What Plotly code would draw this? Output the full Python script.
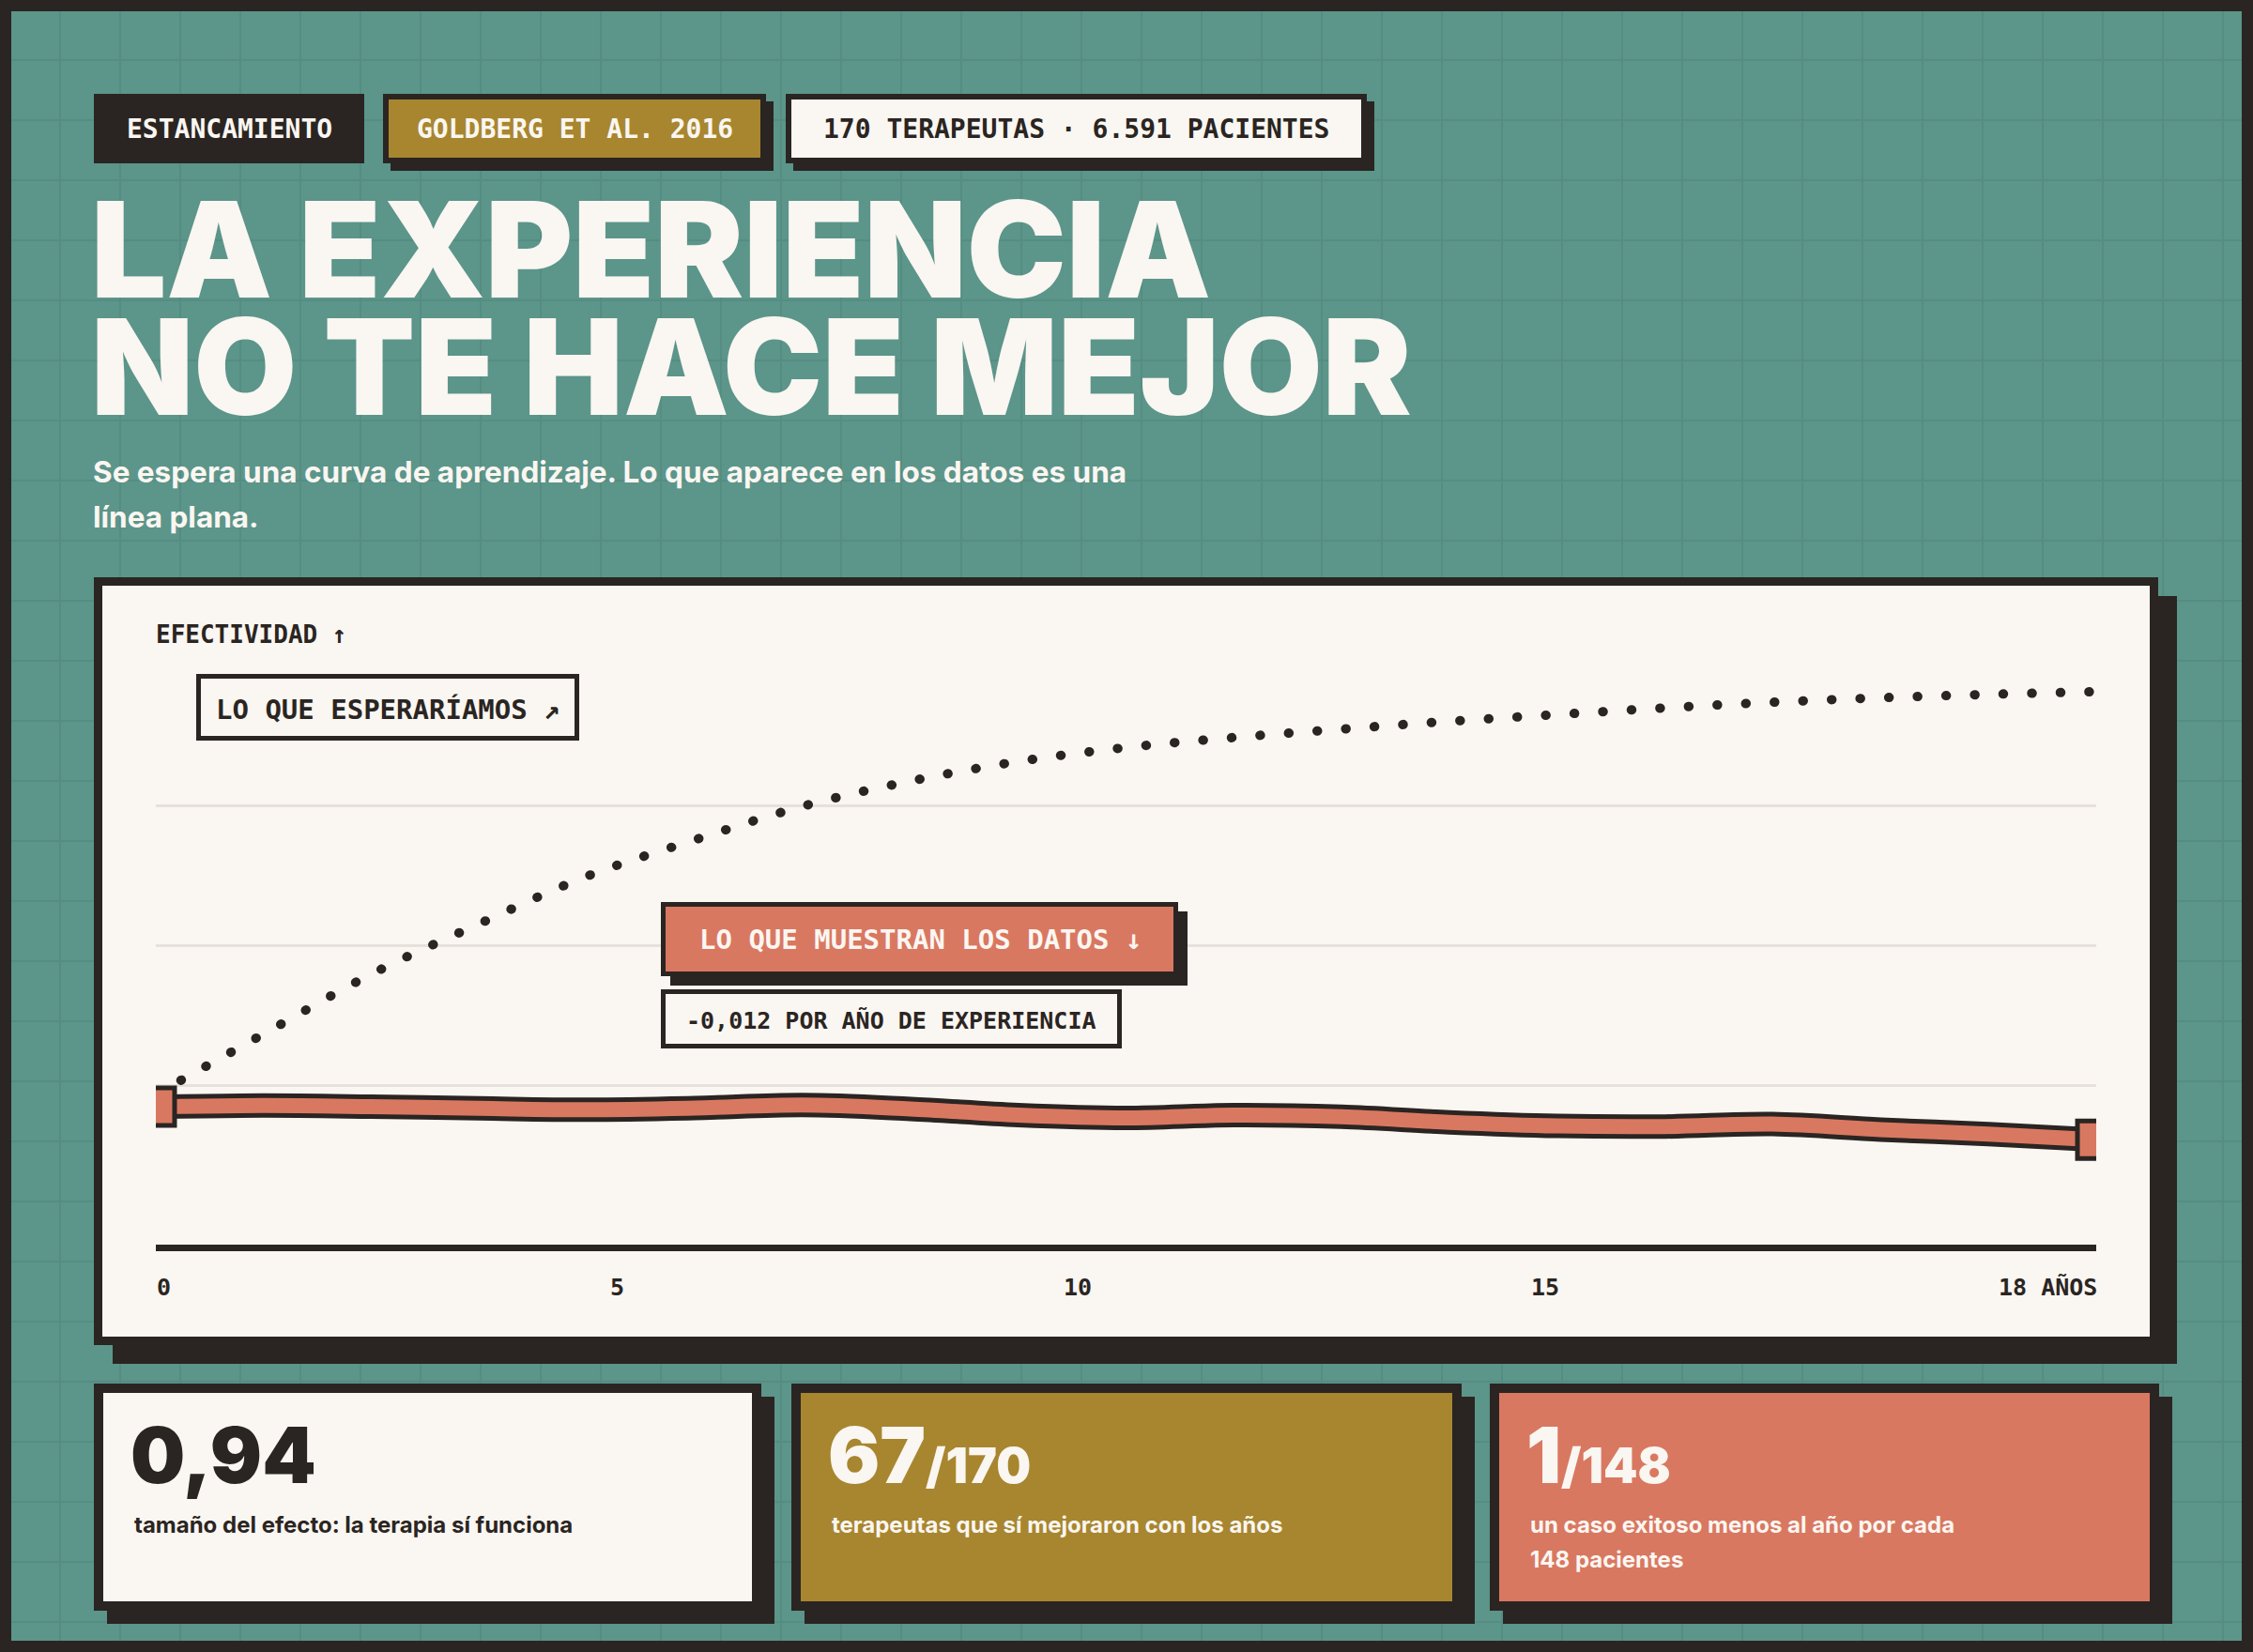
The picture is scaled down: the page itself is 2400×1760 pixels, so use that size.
import plotly.graph_objects as go

# page size in px, everything below is laid out in page pixels
W, H = 2400, 1760

TEAL = "#5c958a"
TEAL_LINE = "#558d82"
DARK = "#2a2522"
CREAM = "#faf6f1"
GOLD = "#a8862f"
CORAL = "#d97861"
GRID = "#e6e1db"

MONO = "DejaVu Sans Mono"
SANS = "Inter"

# --- data ---
years = list(range(19))
expected = [23.5, 34.3, 45.0, 54.0, 62.5, 69.0, 75.0, 79.5, 83.0, 85.5,
            87.3, 88.8, 90.2, 91.4, 92.6, 93.6, 94.4, 95.0, 95.5]
observed = [21.3, 21.5, 21.3, 21.0, 20.75, 21.05, 21.6, 20.9, 19.8, 19.3,
            19.8, 19.5, 18.5, 17.85, 17.75, 18.2, 17.2, 16.4, 15.4]
grid_levels = [25, 50, 75]
x_tick_labels = ["0", "5", "10", "15", "18 AÑOS"]

tag_labels = ["ESTANCAMIENTO", "GOLDBERG ET AL. 2016", "170 TERAPEUTAS · 6.591 PACIENTES"]
title_lines = ["LA EXPERIENCIA", "NO TE HACE MEJOR"]
subtitle_lines = ["Se espera una curva de aprendizaje. Lo que aparece en los datos es una",
                  "línea plana."]
y_label = "EFECTIVIDAD ↑"
expected_label = "LO QUE ESPERARÍAMOS ↗"
observed_label = "LO QUE MUESTRAN LOS DATOS ↓"
slope_label = "-0,012 POR AÑO DE EXPERIENCIA"

stat_values = ["0,94", "67", "1"]
stat_denoms = ["", "/170", "/148"]
stat_texts = [["tamaño del efecto: la terapia sí funciona"],
              ["terapeutas que sí mejoraron con los años"],
              ["un caso exitoso menos al año por cada", "148 pacientes"]]


def fx(px):
    return px / W


def fy(py):
    return 1 - py / H


def rect(x0, y0, x1, y1, color, layer="below"):
    return dict(type="rect", xref="paper", yref="paper",
                x0=fx(x0), x1=fx(x1), y0=fy(y1), y1=fy(y0),
                fillcolor=color, line_width=0, layer=layer)


def box(x0, y0, x1, y1, fill, border=0, shadow=0, layer="below"):
    out = []
    if shadow:
        out.append(rect(x0 + shadow, y0 + shadow, x1 + shadow, y1 + shadow, DARK, layer))
    if border:
        out.append(rect(x0, y0, x1, y1, DARK, layer))
        out.append(rect(x0 + border, y0 + border, x1 - border, y1 - border, fill, layer))
    else:
        out.append(rect(x0, y0, x1, y1, fill, layer))
    return out


def text(t, x, y, size, color, family=MONO, weight=700, anchor="left"):
    return dict(text=t, x=fx(x), y=fy(y), xref="paper", yref="paper",
                xanchor=anchor, yanchor="middle", showarrow=False, borderpad=0,
                font=dict(family=family, size=size, color=color, weight=weight))


shapes = []
annotations = []

# background grid
for gx in range(64, W, 64):
    shapes.append(dict(type="line", xref="paper", yref="paper", x0=fx(gx), x1=fx(gx),
                       y0=0, y1=1, line=dict(color=TEAL_LINE, width=2), layer="below"))
for gy in range(64, H, 64):
    shapes.append(dict(type="line", xref="paper", yref="paper", x0=0, x1=1,
                       y0=fy(gy), y1=fy(gy), line=dict(color=TEAL_LINE, width=2), layer="below"))
shapes.append(dict(type="rect", xref="paper", yref="paper", x0=0, x1=1, y0=0, y1=1,
                   line=dict(color=DARK, width=24), layer="below"))

# tags
tag_boxes = [(100, 388, DARK, CREAM, 0, 0), (408, 816, GOLD, CREAM, 6, 8), (837, 1456, CREAM, DARK, 6, 8)]
for lab, (x0, x1, fill, fg, b, s) in zip(tag_labels, tag_boxes):
    shapes += box(x0, 100, x1, 174, fill, b, s)
    annotations.append(text(lab, (x0 + x1) / 2, 137, 28, fg, anchor="center"))

# title + subtitle
for line, cy in zip(title_lines, [265, 390]):
    annotations.append(text(line, 96, cy, 142, CREAM, family=SANS, weight=900))
for line, cy in zip(subtitle_lines, [503, 551]):
    annotations.append(text(line, 98, cy, 31.5, CREAM, family=SANS, weight=700))

# chart panel
shapes += box(100, 615, 2299, 1433, CREAM, 9, 20)
annotations.append(text(y_label, 165, 676, 26, DARK))

shapes += box(209, 718, 617, 789, CREAM, 5, 0, layer="above")
annotations.append(text(expected_label, 413, 756, 29, DARK, anchor="center"))
shapes += box(704, 961, 1255, 1040, CORAL, 5, 10, layer="above")
annotations.append(text(observed_label, 980, 1001, 29, CREAM, anchor="center"))
shapes += box(704, 1054, 1195, 1117, CREAM, 5, 0, layer="above")
annotations.append(text(slope_label, 949, 1087, 25, DARK, anchor="center"))

# plot area
PX0, PX1, PY_TOP, PY_BOT = 166, 2233, 710, 1326

# x labels spread edge to edge (flex space-between)
tick_size = 25
char_w = 0.602 * tick_size
widths = [len(t) * char_w for t in x_tick_labels]
gap = (PX1 - PX0 - sum(widths)) / (len(x_tick_labels) - 1)
left = PX0
for t, w in zip(x_tick_labels, widths):
    annotations.append(text(t, left, 1371, tick_size, DARK))
    left += w + gap

# stat cards
card_x = [(100, 811), (843, 1557), (1587, 2300)]
card_fill = [CREAM, GOLD, CORAL]
card_fg = [DARK, CREAM, CREAM]
for (x0, x1), fill, fg, val, den, lines in zip(card_x, card_fill, card_fg,
                                               stat_values, stat_denoms, stat_texts):
    shapes += box(x0, 1474, x1, 1716, fill, 10, 14)
    big = val
    if den:
        big += "<span style='font-size:52px'>" + den + "</span>"
    annotations.append(text(big, x0 + 38, 1550, 82, fg, family=SANS, weight=900))
    for i, line in enumerate(lines):
        annotations.append(text(line, x0 + 42, 1624 + 37 * i, 24, fg, family=SANS, weight=700))

fig = go.Figure()
fig.add_trace(go.Scatter(x=years, y=expected, mode="lines",
                         line=dict(color=DARK, width=10, shape="spline", dash="1px,29px"),
                         hoverinfo="skip"))
fig.add_trace(go.Scatter(x=years, y=observed, mode="lines",
                         line=dict(color=DARK, width=26, shape="spline"), hoverinfo="skip"))
fig.add_trace(go.Scatter(x=years, y=observed, mode="lines",
                         line=dict(color=CORAL, width=16, shape="spline"), hoverinfo="skip"))
fig.add_trace(go.Scatter(x=[years[0], years[-1]], y=[observed[0], observed[-1]], mode="markers",
                         marker=dict(symbol="square", size=40, color=CORAL,
                                     line=dict(color=DARK, width=5)),
                         hoverinfo="skip"))

fig.update_layout(
    width=W, height=H, margin=dict(l=0, r=0, t=0, b=0),
    paper_bgcolor=TEAL, plot_bgcolor="rgba(0,0,0,0)",
    showlegend=False, shapes=shapes, annotations=annotations,
    xaxis=dict(domain=[fx(PX0), fx(PX1)], range=[0, 18], showgrid=False, zeroline=False,
               showticklabels=False, ticks="", showline=True, linecolor=DARK, linewidth=7),
    yaxis=dict(domain=[fy(PY_BOT), fy(PY_TOP)], range=[-3.36, 100], tickvals=grid_levels,
               showticklabels=False, ticks="", showgrid=True, gridcolor=GRID, gridwidth=3,
               zeroline=False, showline=False),
)

# no page margin, and round dots for the "expected" curve
post = """
document.body.style.margin = '0';
var p = document.querySelectorAll('[id="{plot_id}"] .scatterlayer .trace')[0];
if (p) { var l = p.querySelector('path.js-line');
  if (l) { l.style.strokeLinecap = 'round'; l.style.strokeDasharray = '0.5px,30px'; } }
"""
fig.write_html("out.html", post_script=post, config={"displayModeBar": False})
